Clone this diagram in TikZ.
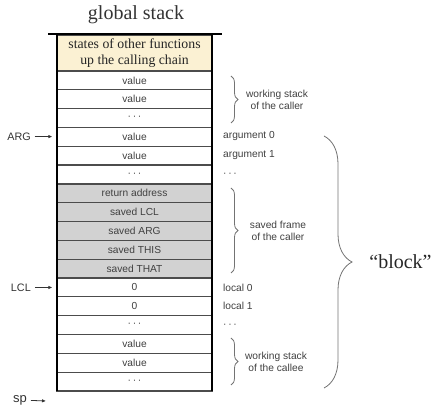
\documentclass[tikz,border=0pt]{standalone}
\usepackage{fontspec}
\setmainfont{Liberation Serif}
\newfontfamily\lsans{Liberation Sans}
\usetikzlibrary{decorations.pathreplacing,arrows.meta}
\definecolor{cream}{HTML}{FBF1D3}
\definecolor{cellgray}{HTML}{D2D2D2}
\begin{document}
\begin{tikzpicture}[x=1pt,y=-1pt,
  cell/.style={draw=black!70, line width=1.2pt, minimum width=155pt, minimum height=18.82pt, inner sep=0pt, font=\lsans\fontsize{10.2}{11}\selectfont, text=black!75, fill=white},
  graycell/.style={cell, fill=cellgray},
  side/.style={font=\lsans\fontsize{10.2}{11}\selectfont, text=black!75, inner sep=0pt, anchor=west},
  note/.style={font=\lsans\fontsize{10.2}{12}\selectfont, text=black!75, align=center, inner sep=0pt},
  ptr/.style={font=\lsans\fontsize{10.8}{12}\selectfont, text=black!80, inner sep=0pt, anchor=east},
  ptrarrow/.style={-{Latex[length=4pt,width=3.5pt]}, line width=0.8pt, black!80},
  brc/.style={decorate, decoration={brace, amplitude=#1}, draw=black!55, line width=0.8pt},
]
\useasboundingbox (0,0) rectangle (437,411);
% title
\node[font=\fontsize{20}{22}\selectfont, text=black!80, inner sep=0pt] (title) at (136,15) {global stack};
% top cell
\node[draw=black!70, line width=1.2pt, fill=cream, minimum width=155pt, minimum height=36pt, inner sep=0pt,
      align=center, font=\fontsize{13.8}{15.5}\selectfont, text=black!85] (topcell) at (134.5,53) {states of other functions\\up the calling chain};
% rows
\foreach \i/\t/\s in {0/value/cell, 1/value/cell, 2/{·\,·\,·}/cell, 3/value/cell, 4/value/cell, 5/{·\,·\,·}/cell,
  6/return address/graycell, 7/saved LCL/graycell, 8/saved ARG/graycell, 9/saved THIS/graycell, 10/saved THAT/graycell,
  11/0/cell, 12/0/cell, 13/{·\,·\,·}/cell, 14/value/cell, 15/value/cell, 16/{·\,·\,·}/cell}{
  \node[\s] (r\i) at (134.5,{71+18.82*(\i+0.5)}) {\t};
}
% borders
\draw[line width=2.5pt] (57,34) -- (57,391);
\draw[line width=2.5pt] (212,34) -- (212,391);
\draw[line width=2.5pt] (48,34) -- (222,34);
% pointers
\node[ptr] (arg) at (31,136.5) {ARG};
\draw[ptrarrow, shorten <=4pt, shorten >=4pt] (arg) -- (r3);
\node[ptr] (lcl) at (31,287.5) {LCL};
\draw[ptrarrow, shorten <=4pt, shorten >=4pt] (lcl) -- (r11);
\node[ptr, font=\lsans\fontsize{13}{14}\selectfont] (sp) at (27,400) {sp};
\coordinate (spend) at (46,401);
\draw[ptrarrow, shorten <=4pt] (sp) -- (spend);
% side labels
\node[side] (a0) at (223,136.5) {argument 0};
\node[side] (a1) at (223,155.3) {argument 1};
\node[side] (a2) at (223,175) {·\,·\,·};
\node[side] (l0) at (223,287.5) {local 0};
\node[side] (l1) at (223,306.3) {local 1};
\node[side] (l2) at (223,326) {·\,·\,·};
% braces
\draw[brc=7pt] (231,76) -- (231,123);
\node[note] (n1) at (277,99.5) {working stack\\of the caller};
\draw[brc=7pt] (231,188) -- (231,273);
\node[note] (n2) at (278,230.5) {saved frame\\of the caller};
\draw[brc=7pt] (231,338) -- (231,385);
\node[note] (n3) at (276,361.5) {working stack\\of the callee};
\draw[brc=28pt] (324,136) -- (324,388);
\node[font=\fontsize{20}{22}\selectfont, text=black!85, inner sep=0pt] (block) at (400.5,262) {“block”};
\end{tikzpicture}
\end{document}
